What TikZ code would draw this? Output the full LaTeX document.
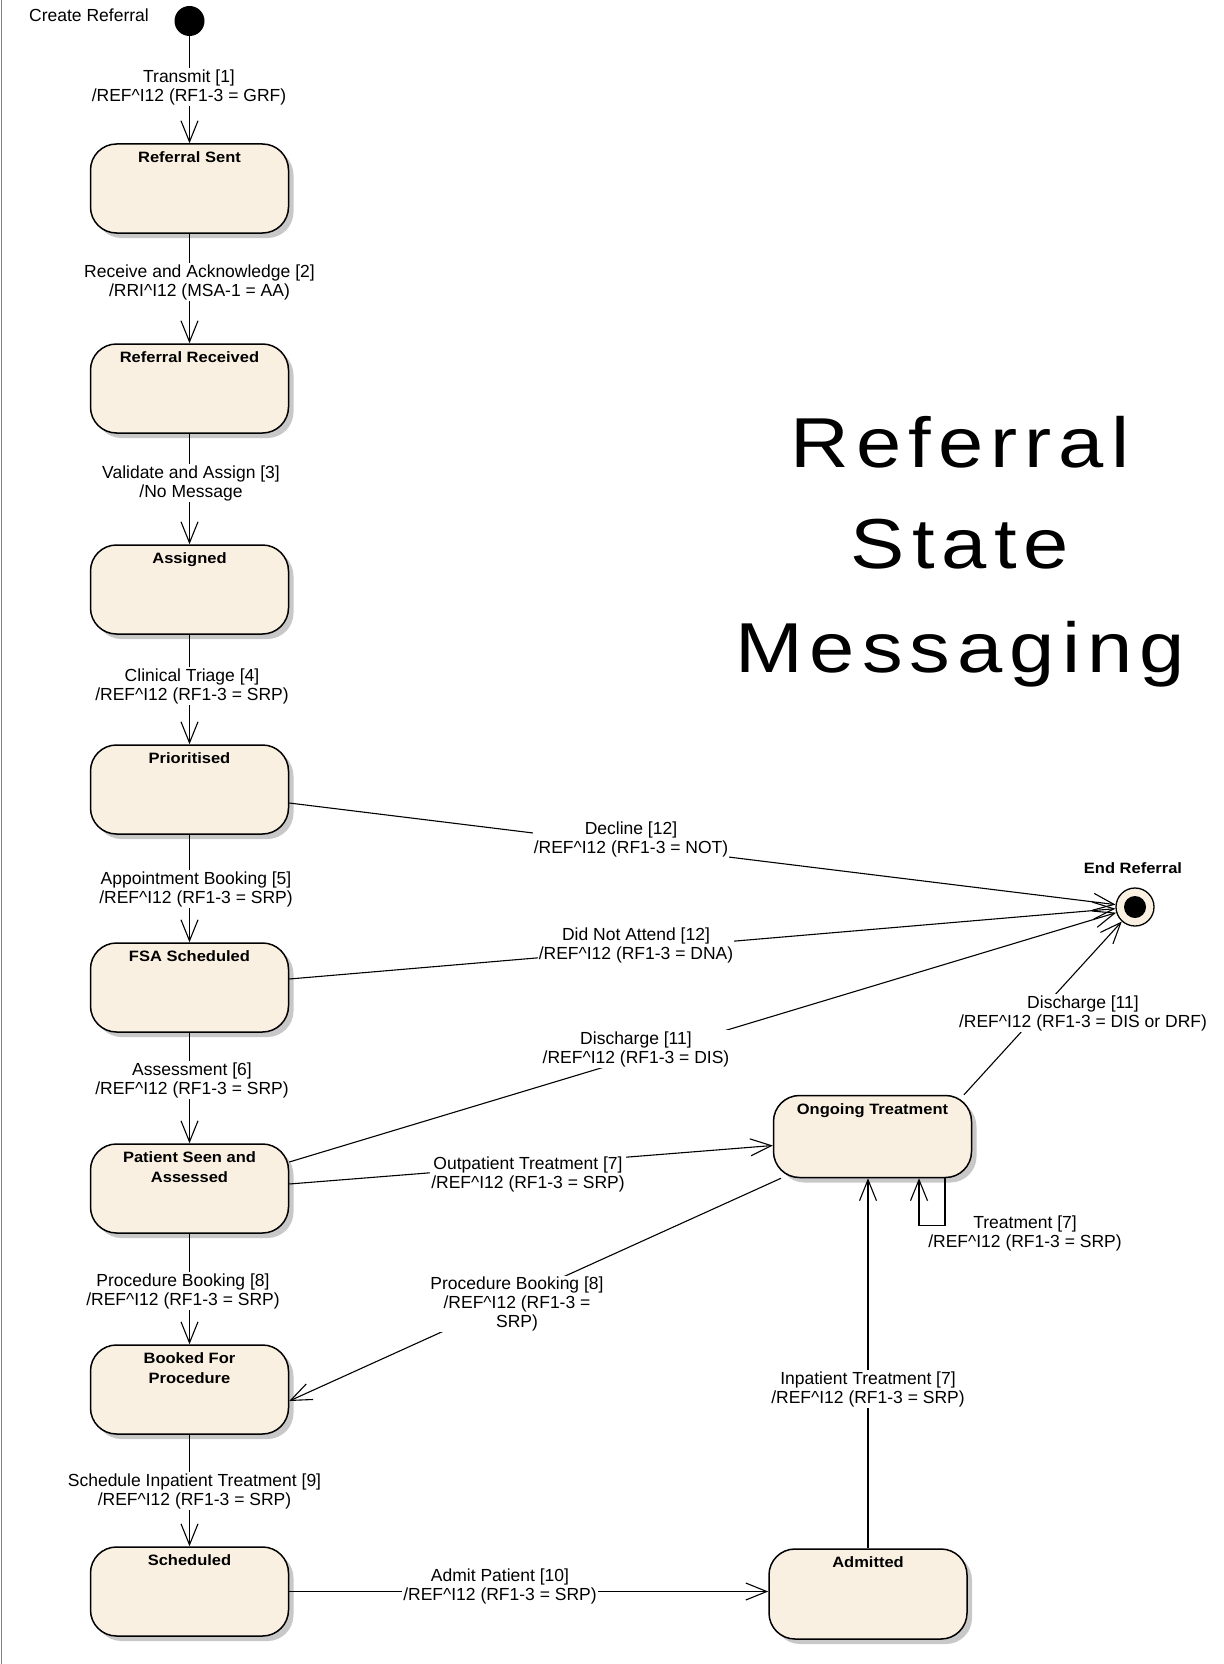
\documentclass[tikz,border=0pt]{standalone}
\usepackage{fontspec}
\setmainfont{Liberation Sans}
\newfontfamily\stfont[FakeStretch=1.1]{Liberation Sans}
\newfontfamily\titlefont[FakeStretch=1.15,LetterSpace=10]{Liberation Sans}
\usetikzlibrary{arrows.meta,shadows}
\definecolor{stfill}{RGB}{250,240,226}
\definecolor{shade}{RGB}{200,200,200}
\begin{document}
\begin{tikzpicture}[x=1pt,y=-1pt,
  stbox/.style={draw=black, line width=1.5pt, fill=stfill, rounded corners=26pt,
    minimum width=198pt, minimum height=89pt, inner sep=0pt,
    general shadow={fill=shade, shadow xshift=5pt, shadow yshift=-5pt}},
  stname/.style={font=\stfont\bfseries\fontsize{15}{20}\selectfont, align=center,
    inner sep=0pt, anchor=north, yshift=-8.5pt},
  conn/.style={line width=1.1pt, -{Straight Barb[length=21pt,width=17pt]}},
  lbl/.style={font=\fontsize{17.5}{19}\selectfont, align=center, fill=white, inner sep=1pt},
  ttl/.style={font=\titlefont\fontsize{70.7}{80}\selectfont, anchor=base, inner sep=0pt}]

\useasboundingbox (0,0) rectangle (1223,1664);
\fill[white] (0,0) rectangle (1223,1664);
\draw[gray, line width=1.5pt] (1.5,0) -- (1.5,1664);

% title
\node[ttl] (t1) at (960,467) {Referral};
\node[ttl] (t2) at (960,568) {State};
\node[ttl] (t3) at (960,672) {Messaging};

% initial and final pseudo-states
\node[circle, fill=black, minimum size=30pt, inner sep=0pt] (init) at (189.5,21) {};
\node[anchor=base west, font=\fontsize{17.5}{19}\selectfont, inner sep=0pt] (initname) at (29,22) {Create Referral};
\node[circle, draw=black, line width=1.3pt, fill=stfill, minimum size=38pt, inner sep=0pt] (fin) at (1135,907) {};
\node[circle, fill=black, minimum size=22pt, inner sep=0pt] (finin) at (fin) {};
\node[anchor=base, font=\stfont\bfseries\fontsize{15}{20}\selectfont, inner sep=0pt] (finname) at (1133,873) {End Referral};

% states, left column
\node[stbox, label={[stname]north:Referral Sent}] (s1) at (189.5,188.5) {};
\node[stbox, label={[stname]north:Referral Received}] (s2) at (189.5,388.5) {};
\node[stbox, label={[stname]north:Assigned}] (s3) at (189.5,589.5) {};
\node[stbox, label={[stname]north:Prioritised}] (prio) at (189.5,789.5) {};
\node[stbox, label={[stname]north:FSA Scheduled}] (fsa) at (189.5,987.5) {};
\node[stbox, label={[stname]north:Patient Seen and\\Assessed}] (ps) at (189.5,1188.5) {};
\node[stbox, label={[stname]north:Booked For\\Procedure}] (bfp) at (189.5,1389.5) {};
\node[stbox, label={[stname]north:Scheduled}] (sch) at (189.5,1591.5) {};

% states, right side
\node[stbox, minimum height=82pt, label={[stname]north:Ongoing Treatment}] (ong) at (872.5,1136.5) {};
\node[stbox, minimum height=90pt, label={[stname]north:Admitted}] (adm) at (868,1594) {};

% main flow
\draw[conn] (init) -- (s1);
\draw[conn] (s1) -- (s2);
\draw[conn] (s2) -- (s3);
\draw[conn] (s3) -- (prio);
\draw[conn] (prio) -- (fsa);
\draw[conn] (fsa) -- (ps);
\draw[conn] (ps) -- (bfp);
\draw[conn] (bfp) -- (sch);

% transitions to the final state
\draw[conn] ([yshift=-13.5pt]prio.east) -- (fin);
\draw[conn] ([yshift=8.5pt]fsa.east) -- (fin);
\draw[conn] ([yshift=26.5pt]ps.east) -- (fin);
\draw[conn] ([xshift=91.5pt]ong.north) -- (fin);

% treatment paths
\draw[conn] ([yshift=4.5pt]ps.east) -- ([yshift=-9pt]ong.west);
\draw[conn] ([xshift=-91.5pt]ong.south) -- ([yshift=-11.5pt]bfp.east);
\draw[conn] (adm.north) -- (adm.north |- ong.south);
\draw[conn] (sch.east) -- (sch.east -| adm.west);

% transition labels
\node[lbl] (l1) at (189,87) {Transmit [1]\\/REF\textasciicircum I12 (RF1-3 = GRF)};
\node[lbl] (l2) at (199.5,282) {Receive and Acknowledge [2]\\/RRI\textasciicircum I12 (MSA-1 = AA)};
\node[lbl] (l3) at (191,483) {Validate and Assign [3]\\/No Message};
\node[lbl] (l4) at (192,686) {Clinical Triage [4]\\/REF\textasciicircum I12 (RF1-3 = SRP)};
\node[lbl] (l5) at (196,889) {Appointment Booking [5]\\/REF\textasciicircum I12 (RF1-3 = SRP)};
\node[lbl] (l6) at (192,1080) {Assessment [6]\\/REF\textasciicircum I12 (RF1-3 = SRP)};
\node[lbl] (l8) at (183,1291) {Procedure Booking [8]\\/REF\textasciicircum I12 (RF1-3 = SRP)};
\node[lbl] (l9) at (194.5,1491) {Schedule Inpatient Treatment [9]\\/REF\textasciicircum I12 (RF1-3 = SRP)};
\node[lbl] (ldec) at (631,839) {Decline [12]\\/REF\textasciicircum I12 (RF1-3 = NOT)};
\node[lbl] (ldna) at (636,945) {Did Not Attend [12]\\/REF\textasciicircum I12 (RF1-3 = DNA)};
\node[lbl] (ldis) at (636,1049) {Discharge [11]\\/REF\textasciicircum I12 (RF1-3 = DIS)};
\node[lbl] (ldis2) at (1083,1013) {Discharge [11]\\/REF\textasciicircum I12 (RF1-3 = DIS or DRF)};
\node[lbl] (lout) at (528,1174) {Outpatient Treatment [7]\\/REF\textasciicircum I12 (RF1-3 = SRP)};
\node[lbl] (lpb) at (517,1304) {Procedure Booking [8]\\/REF\textasciicircum I12 (RF1-3 =\\SRP)};
\node[lbl] (ltr) at (1025,1233) {Treatment [7]\\/REF\textasciicircum I12 (RF1-3 = SRP)};
\node[lbl] (linp) at (868,1389) {Inpatient Treatment [7]\\/REF\textasciicircum I12 (RF1-3 = SRP)};
\node[lbl] (ladm) at (500,1586) {Admit Patient [10]\\/REF\textasciicircum I12 (RF1-3 = SRP)};

% self transition, drawn over the label box that sits beside it
\draw[conn] ([xshift=72.5pt]ong.south) -- ++(0,47) -| ([xshift=46.5pt]ong.south);
\end{tikzpicture}
\end{document}
